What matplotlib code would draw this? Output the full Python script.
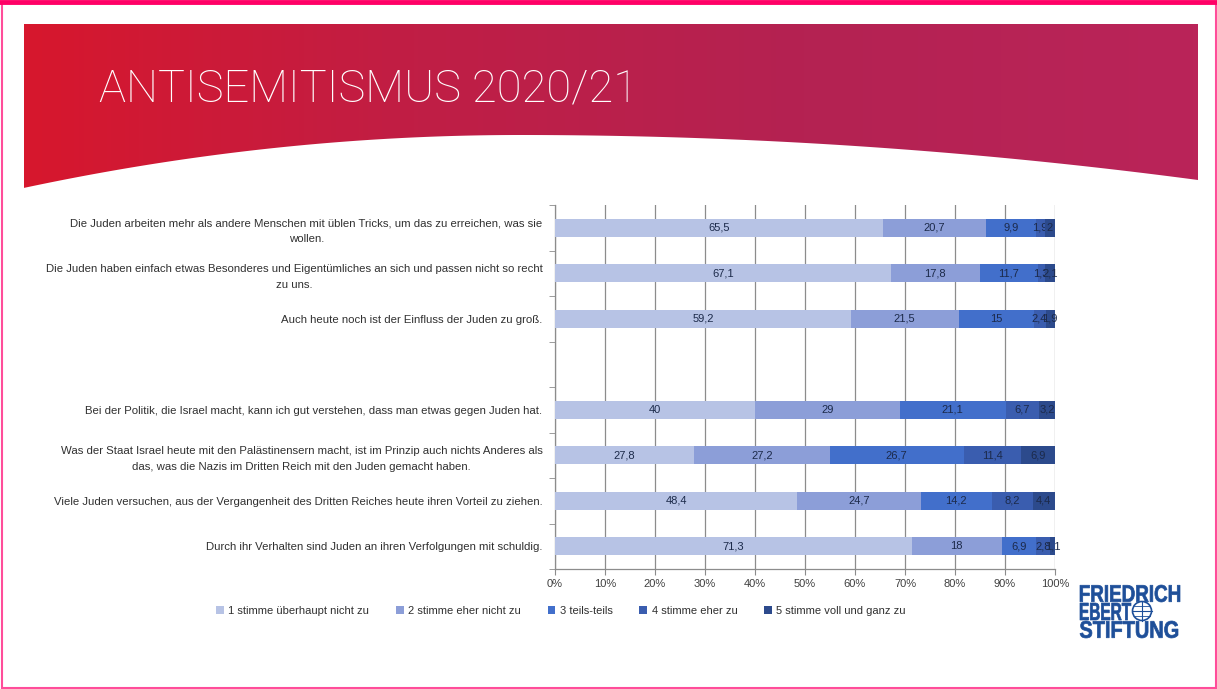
import matplotlib
matplotlib.use("Agg")
import matplotlib.pyplot as plt
import numpy as np
from matplotlib.patches import Polygon, Rectangle, Circle, PathPatch
from matplotlib.colors import LinearSegmentedColormap
from matplotlib.ticker import FuncFormatter
from matplotlib.textpath import TextPath
from matplotlib.font_manager import FontProperties
from matplotlib.transforms import Affine2D

plt.rcParams['font.family'] = ['Liberation Sans', 'DejaVu Sans']

# statements (empty string = spacer row between the two blocks)
statements = [
    "Die Juden arbeiten mehr als andere Menschen mit üblen Tricks, um das zu erreichen, was sie\nwollen.",
    "Die Juden haben einfach etwas Besonderes und Eigentümliches an sich und passen nicht so recht\nzu uns.",
    "Auch heute noch ist der Einfluss der Juden zu groß.",
    "",
    "Bei der Politik, die Israel macht, kann ich gut verstehen, dass man etwas gegen Juden hat.",
    "Was der Staat Israel heute mit den Palästinensern macht, ist im Prinzip auch nichts Anderes als\ndas, was die Nazis im Dritten Reich mit den Juden gemacht haben.",
    "Viele Juden versuchen, aus der Vergangenheit des Dritten Reiches heute ihren Vorteil zu ziehen.",
    "Durch ihr Verhalten sind Juden an ihren Verfolgungen mit schuldig.",
]
answers = ["1 stimme überhaupt nicht zu", "2 stimme eher nicht zu", "3 teils-teils",
           "4 stimme eher zu", "5 stimme voll und ganz zu"]

stimme1 = [65.5, 67.1, 59.2, np.nan, 40, 27.8, 48.4, 71.3]
stimme2 = [20.7, 17.8, 21.5, np.nan, 29, 27.2, 24.7, 18]
stimme3 = [9.9, 11.7, 15, np.nan, 21.1, 26.7, 14.2, 6.9]
stimme4 = [1.9, 1.3, 2.4, np.nan, 6.7, 11.4, 8.2, 2.8]
stimme5 = [2, 2.1, 1.9, np.nan, 3.2, 6.9, 4.4, 1.1]

colors = ['#B7C3E5', '#8C9ED8', '#426FCB', '#3A5DAF', '#2C4A8C']

W, H = 1217, 689
fig = plt.figure(figsize=(W / 100, H / 100), dpi=100)

# background layer: banner + frame (pixel coordinates)
bg = fig.add_axes([0, 0, 1, 1], zorder=-5)
bg.axis('off')

xs = np.linspace(24, 1198, 200)
curve = np.where(xs < 520, 135 + 0.000215 * (xs - 520) ** 2, 135 + 0.0000979 * (xs - 520) ** 2)
pts = [(24, 24), (1198, 24)] + list(zip(xs[::-1], curve[::-1]))
banner = Polygon(pts, closed=True, facecolor='none', edgecolor='none')
bg.add_patch(banner)
cmap = LinearSegmentedColormap.from_list('fes', ['#D7172D', '#C01E45', '#B42252', '#BA2459'])
grad = np.tile(np.linspace(0, 1, 256), (2, 1))
im = bg.imshow(grad, cmap=cmap, extent=(24, 1198, 190, 24), aspect='auto', zorder=0)
im.set_clip_path(banner)
bg.set_xlim(0, W)
bg.set_ylim(H, 0)

bg.text(99, 101, "ANTISEMITISMUS 2020/21", color='white', fontsize=32.6,
        family=['Roboto', 'Lato', 'DejaVu Sans'], fontweight='light', va='baseline', ha='left')

bg.add_patch(Rectangle((1.5, 1.5), W - 3, H - 3, facecolor='none', edgecolor='#FF4D9A', lw=1.5))
bg.plot([0, W], [2, 2], color='#FF0066', lw=3.5)


# logo: text paths squeezed into the box seen in the picture
def logo_word(txt, x0, x1, ytop, ybot, color):
    tp = TextPath((0, 0), txt, size=20, prop=FontProperties(family='Liberation Sans', weight='bold'))
    ext = tp.get_extents()
    sx = (x1 - x0) / ext.width
    sy = (ybot - ytop) / ext.height
    tr = Affine2D().translate(-ext.x0, -ext.y0).scale(sx, -sy).translate(x0, ybot)
    bg.add_patch(PathPatch(tr.transform_path(tp), facecolor=color, edgecolor=color, lw=0.5))


logo_blue = '#1E4F99'
logo_word("FRIEDRICH", 1080, 1180, 585, 602, logo_blue)
logo_word("EBERT", 1080, 1131, 603, 620, logo_blue)
logo_word("STIFTUNG", 1080, 1178, 621, 638, logo_blue)
bg.add_patch(Circle((1142, 611), 9.5, facecolor='white', edgecolor=logo_blue, lw=1.2))
bg.plot([1132.5, 1151.5], [611, 611], color=logo_blue, lw=0.8)
bg.plot([1142, 1142], [601.5, 620.5], color=logo_blue, lw=0.8)
bg.plot([1134, 1150], [606, 606], color=logo_blue, lw=0.6)
bg.plot([1134, 1150], [616, 616], color=logo_blue, lw=0.6)

# chart
ax = fig.add_axes([555 / W, 1 - 569 / H, 500 / W, 364 / H])
y = np.arange(len(statements))
series = [stimme1, stimme2, stimme3, stimme4, stimme5]
left = np.zeros(len(statements))
for vals, col, name in zip(series, colors, answers):
    vals = np.array(vals, dtype=float)
    bars = ax.barh(y, np.nan_to_num(vals) / 100, left=left, height=0.4, color=col,
                   label=name, zorder=3)
    labels = ['' if np.isnan(v) else f"{v:g}".replace('.', ',') for v in vals]
    ax.bar_label(bars, labels=labels, label_type='center', fontsize=8, color='#1C2A4A')
    left += np.nan_to_num(vals) / 100

ax.set_xlim(0, 1)
ax.set_ylim(len(statements) - 0.5, -0.5)
ax.set_xticks(np.arange(0, 1.01, 0.1))
ax.xaxis.set_major_formatter(FuncFormatter(lambda v, p: f"{v * 100:.0f}%"))
ax.grid(axis='x', color='#8C8C8C', lw=0.9, zorder=0)
ax.set_axisbelow(True)

ax.set_yticks(y)
ax.set_yticklabels(statements, fontsize=8.2, color='#303030')
for t in ax.get_yticklabels():
    t.set_multialignment('center')
    t.set_linespacing(1.7)
ax.set_yticks(np.arange(-0.5, len(statements), 1), minor=True)
ax.tick_params(axis='y', which='major', length=0, pad=9)
ax.tick_params(axis='y', which='minor', length=4, color='#8C8C8C')
ax.tick_params(axis='x', length=4, color='#8C8C8C', labelsize=8, labelcolor='#404040', pad=3)

for s in ['top', 'right']:
    ax.spines[s].set_visible(False)
for s in ['left', 'bottom']:
    ax.spines[s].set_color('#8C8C8C')
    ax.spines[s].set_linewidth(0.9)

fig.legend(loc='center', bbox_to_anchor=(561 / W, 1 - 611 / H), ncol=5, frameon=False,
           fontsize=8, labelcolor='#303030', handlelength=0.7, handleheight=0.7,
           handletextpad=0.4, columnspacing=2.4)

fig.savefig("out.png", dpi=100)
